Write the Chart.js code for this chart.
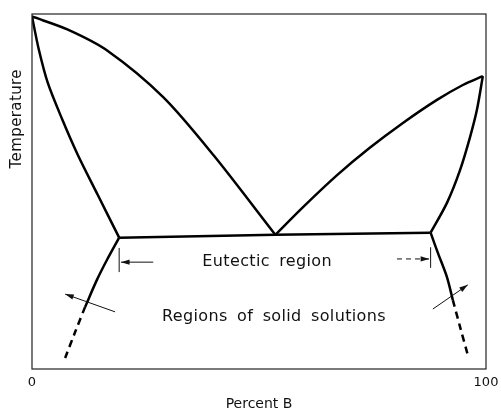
<!DOCTYPE html>
<html>
<head>
<meta charset="utf-8">
<script src="https://cdn.jsdelivr.net/npm/chart.js@4"></script>
<style>
  html, body { margin: 0; padding: 0; background: #fff; }
  #wrap { width: 501px; height: 413px; }
</style>
</head>
<body>
<div id="wrap"><canvas id="phaseCanvas"></canvas></div>
<script>
// liquidus / solidus curves, x = percent B, y = relative temperature
const liquidusA = [[0, 99.3], [7.9, 95.6], [16.7, 89.6], [28.9, 76.6], [40, 60.2], [53.6, 37.8]];
const solidusA = [[0, 99.3], [1.5, 90.0], [3.5, 80.5], [6.6, 70.5], [10.1, 60.3], [14.5, 49.0], [19.2, 37.0]];
const liquidusB = [[53.6, 37.8], [59.7, 45.6], [67.2, 54.6], [74.4, 62.3], [81.7, 69.3], [89.2, 75.8], [94.9, 80.0], [99.3, 82.5]];
const solidusB = [[87.8, 38.4], [91.4, 46.8], [94.3, 56.1], [96.5, 65.4], [98.0, 73.0], [99.3, 82.5]];
const eutecticLine = [[19.2, 37.0], [53.6, 37.8], [87.8, 38.4]];
const solvusA = [[19.2, 37.0], [16.5, 30.7], [14.3, 25.1], [11.7, 17.5]];
const solvusAdashed = [[11.7, 17.5], [9.5, 10.4], [7.3, 3.1]];
const solvusB = [[87.8, 38.4], [89.4, 32.7], [91.4, 25.9], [92.7, 19.4]];
const solvusBdashed = [[92.7, 19.4], [94.3, 11.8], [96.0, 3.9]];

const xTicks = [0, 100];

// labels and arrows, in data units
const labels = [
  { text: "Eutectic region", x: 51.8, y: 30.1 },
  { text: "Regions of solid solutions", x: 53.3, y: 14.6 }
];
const ticks = [
  { x: 19.2, y1: 34.1, y2: 27.3 },
  { x: 87.8, y1: 34.3, y2: 28.5 }
];
const arrows = [
  { from: [26.7, 30.1], to: [19.6, 30.1], dash: [] },
  { from: [80.4, 31.0], to: [87.5, 31.0], dash: [5, 4] },
  { from: [18.3, 16.1], to: [7.3, 21.1], dash: [] },
  { from: [88.3, 16.9], to: [96.0, 23.7], dash: [] }
];
const yTitle = { text: "Temperature", y: 70.5 };

function toPts(arr) {
  return arr.map(function (p) { return { x: p[0], y: p[1] }; });
}

function curve(arr, dashed) {
  return {
    data: toPts(arr),
    showLine: true,
    borderColor: "#000",
    borderWidth: 2.5,
    borderDash: dashed ? [7, 5] : [],
    pointRadius: 0,
    tension: 0.3,
    fill: false
  };
}

const extras = {
  id: "extras",
  afterDatasetsDraw: function (chart) {
    const ctx = chart.ctx;
    const xs = chart.scales.x;
    const ys = chart.scales.y;
    const a = chart.chartArea;
    ctx.save();
    // frame
    ctx.strokeStyle = "#222";
    ctx.lineWidth = 1.2;
    ctx.strokeRect(a.left, a.top, a.right - a.left, a.bottom - a.top);

    ctx.fillStyle = "#111";
    ctx.font = "16px 'DejaVu Sans'";
    ctx.textAlign = "center";
    ctx.textBaseline = "middle";
    ctx.letterSpacing = "0.35px";
    ctx.wordSpacing = "4px";
    labels.forEach(function (l) {
      ctx.fillText(l.text, xs.getPixelForValue(l.x), ys.getPixelForValue(l.y));
    });

    // y title
    ctx.save();
    ctx.translate(17, ys.getPixelForValue(yTitle.y));
    ctx.rotate(-Math.PI / 2);
    ctx.font = "15px 'DejaVu Sans'";
    ctx.letterSpacing = "0.4px";
    ctx.fillText(yTitle.text, 0, 0);
    ctx.restore();
    ctx.letterSpacing = "0px";
    ctx.wordSpacing = "0px";

    ctx.strokeStyle = "#111";
    ctx.lineWidth = 1;
    ticks.forEach(function (t) {
      ctx.beginPath();
      ctx.moveTo(xs.getPixelForValue(t.x), ys.getPixelForValue(t.y1));
      ctx.lineTo(xs.getPixelForValue(t.x), ys.getPixelForValue(t.y2));
      ctx.stroke();
    });

    arrows.forEach(function (ar) {
      const x1 = xs.getPixelForValue(ar.from[0]);
      const y1 = ys.getPixelForValue(ar.from[1]);
      const x2 = xs.getPixelForValue(ar.to[0]);
      const y2 = ys.getPixelForValue(ar.to[1]);
      const ang = Math.atan2(y2 - y1, x2 - x1);
      ctx.setLineDash(ar.dash);
      ctx.beginPath();
      ctx.moveTo(x1, y1);
      ctx.lineTo(x2, y2);
      ctx.stroke();
      ctx.setLineDash([]);
      ctx.beginPath();
      ctx.moveTo(x2, y2);
      ctx.lineTo(x2 - 9 * Math.cos(ang - 0.3), y2 - 9 * Math.sin(ang - 0.3));
      ctx.lineTo(x2 - 9 * Math.cos(ang + 0.3), y2 - 9 * Math.sin(ang + 0.3));
      ctx.closePath();
      ctx.fill();
    });
    ctx.restore();
  }
};

new Chart(document.getElementById("phaseCanvas"), {
  type: "scatter",
  data: {
    datasets: [
      curve(liquidusA), curve(solidusA), curve(liquidusB), curve(solidusB),
      curve(eutecticLine), curve(solvusA), curve(solvusAdashed, true),
      curve(solvusB), curve(solvusBdashed, true)
    ]
  },
  options: {
    responsive: true,
    maintainAspectRatio: false,
    animation: false,
    layout: { padding: { left: 0, top: 14, right: 15, bottom: 0 } },
    plugins: { legend: { display: false }, tooltip: { enabled: false } },
    scales: {
      x: {
        type: "linear",
        min: 0,
        max: 100,
        afterFit: function (s) { s.height = 44; s.paddingRight = 0; },
        afterBuildTicks: function (s) { s.ticks = xTicks.map(function (v) { return { value: v }; }); },
        grid: { display: false, drawTicks: false },
        border: { display: false },
        ticks: { color: "#111", font: { family: "DejaVu Sans", size: 13 }, padding: 6 },
        title: { display: true, text: "Percent B", color: "#111", font: { family: "DejaVu Sans", size: 14 }, padding: { top: 0, bottom: 0 } }
      },
      y: {
        type: "linear",
        min: 0,
        max: 100,
        afterFit: function (s) { s.width = 32; },
        grid: { display: false, drawTicks: false },
        border: { display: false },
        ticks: { display: false }
      }
    }
  },
  plugins: [extras]
});
</script>
</body>
</html>
